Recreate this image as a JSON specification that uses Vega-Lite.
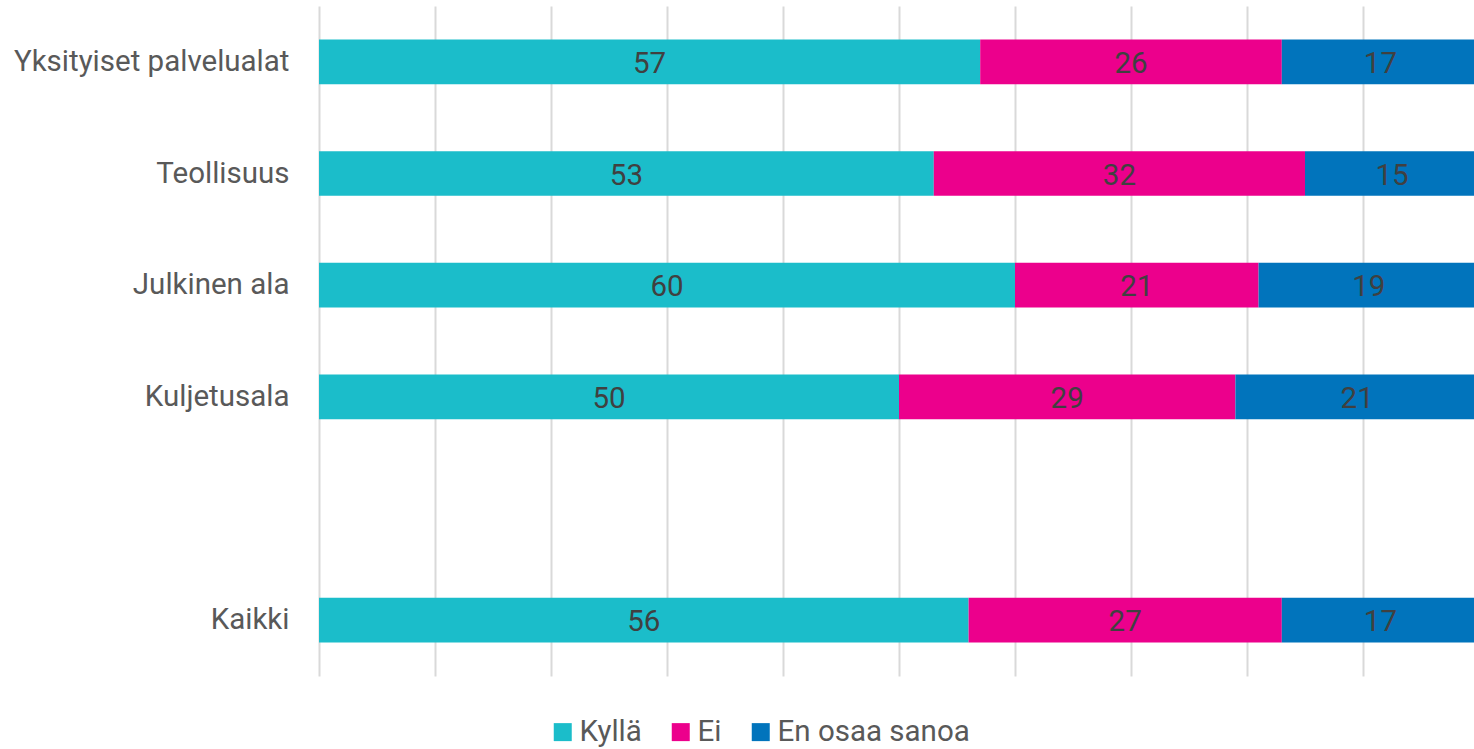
{
  "$schema": "https://vega.github.io/schema/vega-lite/v6.json",
  "autosize": {"type": "none"},
  "padding": {"left": 319, "top": 6, "right": 0, "bottom": 73},
  "width": 1155,
  "height": 670,
  "background": "white",
  "config": {
    "view": {"stroke": null},
    "font": "Roboto"
  },
  "data": {
    "values": [
      {"cat": "Yksityiset palvelualat", "ans": "Kyllä", "o": 1, "v": 57},
      {"cat": "Yksityiset palvelualat", "ans": "Ei", "o": 2, "v": 26},
      {"cat": "Yksityiset palvelualat", "ans": "En osaa sanoa", "o": 3, "v": 17},
      {"cat": "Teollisuus", "ans": "Kyllä", "o": 1, "v": 53},
      {"cat": "Teollisuus", "ans": "Ei", "o": 2, "v": 32},
      {"cat": "Teollisuus", "ans": "En osaa sanoa", "o": 3, "v": 15},
      {"cat": "Julkinen ala", "ans": "Kyllä", "o": 1, "v": 60},
      {"cat": "Julkinen ala", "ans": "Ei", "o": 2, "v": 21},
      {"cat": "Julkinen ala", "ans": "En osaa sanoa", "o": 3, "v": 19},
      {"cat": "Kuljetusala", "ans": "Kyllä", "o": 1, "v": 50},
      {"cat": "Kuljetusala", "ans": "Ei", "o": 2, "v": 29},
      {"cat": "Kuljetusala", "ans": "En osaa sanoa", "o": 3, "v": 21},
      {"cat": "Kaikki", "ans": "Kyllä", "o": 1, "v": 56},
      {"cat": "Kaikki", "ans": "Ei", "o": 2, "v": 27},
      {"cat": "Kaikki", "ans": "En osaa sanoa", "o": 3, "v": 17}
    ]
  },
  "transform": [
    {"stack": "v", "groupby": ["cat"], "sort": [{"field": "o", "order": "ascending"}], "as": ["v0", "v1"]},
    {"calculate": "(datum.v0 + datum.v1) / 2", "as": "mid"}
  ],
  "encoding": {
    "y": {
      "field": "cat",
      "type": "nominal",
      "scale": {
        "domain": ["Yksityiset palvelualat", "Teollisuus", "Julkinen ala", "Kuljetusala", " ", "Kaikki"],
        "paddingInner": 0.6,
        "paddingOuter": 0.3
      },
      "axis": {
        "title": null,
        "domain": false,
        "ticks": false,
        "labelPadding": 30,
        "labelFontSize": 29.5,
        "labelLimit": 400,
        "labelColor": "#595959",
        "labelFont": "Roboto",
        "grid": false
      }
    }
  },
  "layer": [
    {
      "mark": {"type": "bar", "clip": true},
      "encoding": {
        "x": {
          "field": "v0",
          "type": "quantitative",
          "scale": {"domain": [0, 99.569], "nice": false, "zero": true},
          "axis": {
            "title": null,
            "values": [0, 10, 20, 30, 40, 50, 60, 70, 80, 90],
            "labels": false,
            "ticks": false,
            "domain": false,
            "grid": true,
            "gridColor": "#d9d9d9",
            "gridWidth": 2
          }
        },
        "x2": {"field": "v1"},
        "color": {
          "field": "ans",
          "type": "nominal",
          "scale": {
            "domain": ["Kyllä", "Ei", "En osaa sanoa"],
            "range": ["#1bbdca", "#ec008c", "#0174bc"]
          },
          "legend": {
            "title": null,
            "orient": "none",
            "direction": "horizontal",
            "legendX": 229,
            "legendY": 711,
            "padding": 0,
            "symbolType": "square",
            "symbolSize": 324,
            "symbolStrokeWidth": 0,
            "labelFontSize": 29.5,
            "labelLimit": 400,
            "labelColor": "#595959",
            "labelFont": "Roboto",
            "labelOffset": 2,
            "columnPadding": 24
          }
        }
      }
    },
    {
      "mark": {"type": "text", "fontSize": 29.5, "color": "#404040", "font": "Roboto", "baseline": "middle", "align": "center", "dy": 2},
      "encoding": {
        "x": {"field": "mid", "type": "quantitative"},
        "text": {"field": "v", "type": "quantitative"}
      }
    }
  ]
}
